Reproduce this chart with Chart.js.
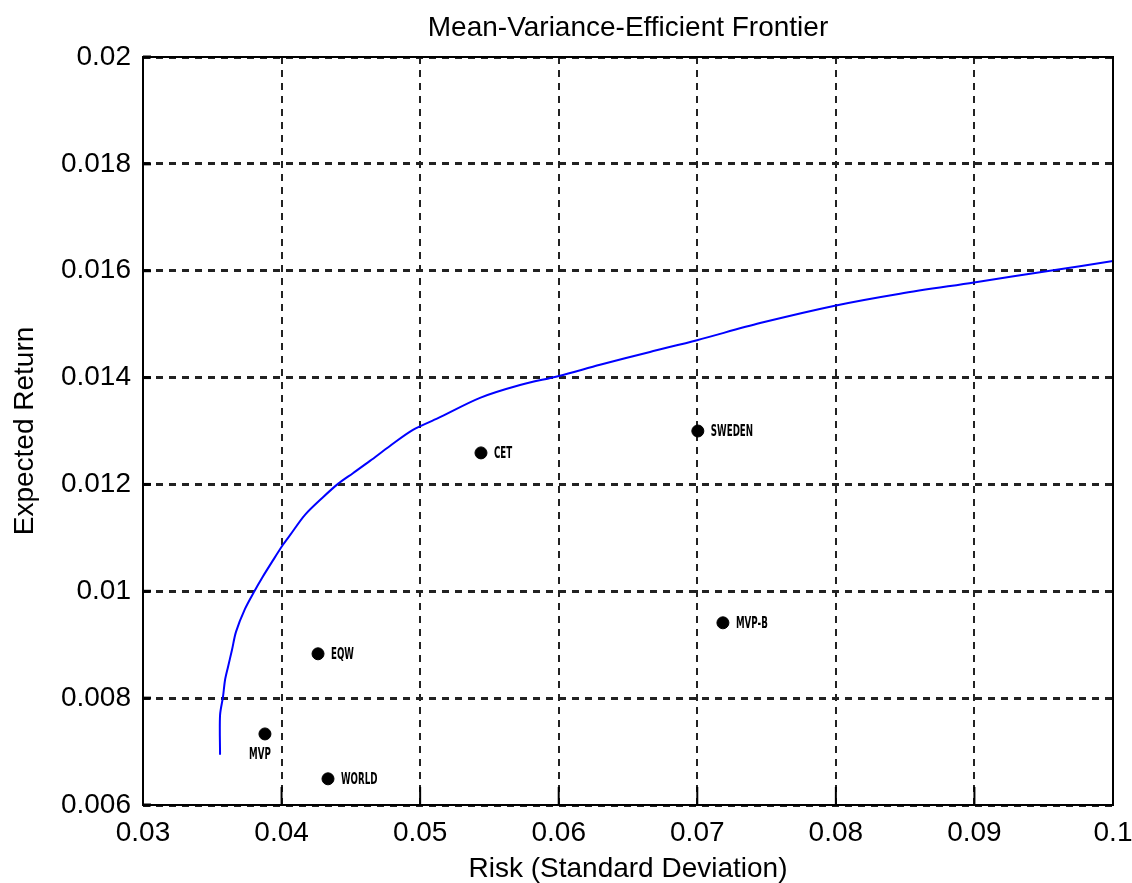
<!DOCTYPE html>
<html>
<head>
<meta charset="utf-8">
<script src="https://cdn.jsdelivr.net/npm/chart.js@4.4.1/dist/chart.umd.min.js"></script>
<style>
  html, body { margin: 0; padding: 0; background: #fff; }
  #wrap { width: 1132px; height: 883px; }
</style>
</head>
<body>
<div id="wrap"><canvas id="c"></canvas></div>
<script>
// efficient frontier
const frontierRisk = [0.03556, 0.03556, 0.03577, 0.03592, 0.03613, 0.03642, 0.03671, 0.03736, 0.03808, 0.03859,
  0.03931, 0.04010, 0.04061, 0.04169, 0.04299, 0.04407, 0.04515, 0.04638, 0.04782, 0.04948,
  0.05129, 0.05432, 0.05721, 0.06002, 0.06298, 0.06659, 0.06998, 0.07453, 0.08001, 0.08463,
  0.08997, 0.09545, 0.1];
const frontierReturn = [0.00694, 0.00768, 0.00802, 0.00834, 0.00858, 0.00890, 0.00924, 0.00967, 0.01002, 0.01025,
  0.01055, 0.01087, 0.01105, 0.01143, 0.01176, 0.01201, 0.01221, 0.01244, 0.01272, 0.01302,
  0.01324, 0.01362, 0.01386, 0.01403, 0.01424, 0.01448, 0.01470, 0.01502, 0.01535, 0.01557,
  0.01578, 0.01600, 0.01618];

// portfolios
const portNames = ["MVP", "WORLD", "EQW", "CET", "SWEDEN", "MVP-B"];
const portRisk = [0.0388, 0.04335, 0.04263, 0.05439, 0.07004, 0.07185];
const portReturn = [0.00733, 0.00649, 0.00883, 0.01259, 0.0130, 0.00941];

const xTicks = [0.03, 0.04, 0.05, 0.06, 0.07, 0.08, 0.09, 0.1];
const yTicks = [0.006, 0.008, 0.01, 0.012, 0.014, 0.016, 0.018, 0.02];

const FONT = "'Liberation Sans', Arial, sans-serif";

const fmt = v => String(Number(v.toFixed(4)));

// title, portfolio labels, solid frame + inward ticks
const decor = {
  id: 'decor',
  afterDraw(chart) {
    const { ctx, chartArea: a, scales: { x, y } } = chart;
    ctx.save();
    // frame
    ctx.strokeStyle = '#000';
    ctx.lineWidth = 2;
    ctx.setLineDash([]);
    ctx.strokeRect(a.left, a.top, a.right - a.left, a.bottom - a.top);
    // inward tick marks
    xTicks.forEach(v => {
      const px = x.getPixelForValue(v);
      ctx.beginPath();
      ctx.moveTo(px, a.bottom); ctx.lineTo(px, a.bottom - 18);
      ctx.stroke();
    });
    ctx.lineWidth = 3;
    yTicks.forEach(v => {
      const py = y.getPixelForValue(v);
      ctx.beginPath();
      ctx.moveTo(a.left, py); ctx.lineTo(a.left + 8, py);
      ctx.stroke();
    });
    // title
    ctx.fillStyle = '#000';
    ctx.font = "28px " + FONT;
    ctx.textAlign = 'center';
    ctx.textBaseline = 'middle';
    ctx.fillText('Mean-Variance-Efficient Frontier', (a.left + a.right) / 2, 28);
    // portfolio labels (narrow, tall)
    ctx.font = "bold 15px 'DejaVu Sans', sans-serif";
    portNames.forEach((n, i) => {
      const px = x.getPixelForValue(portRisk[i]);
      const py = y.getPixelForValue(portReturn[i]);
      ctx.save();
      if (n === 'MVP') {
        ctx.translate(px - 5, py + 21);
        ctx.textAlign = 'center';
      } else {
        ctx.translate(px + 13, py + 1);
        ctx.textAlign = 'left';
      }
      ctx.scale(0.58, 1);
      ctx.fillText(n, 0, 0);
      ctx.restore();
    });
    ctx.restore();
  }
};

new Chart(document.getElementById('c'), {
  type: 'scatter',
  data: {
    datasets: [
      {
        type: 'line',
        data: frontierRisk.map((r, i) => ({ x: r, y: frontierReturn[i] })),
        borderColor: '#0000ff',
        borderWidth: 2,
        pointRadius: 0,
        tension: 0.3,
        fill: false,
        order: 2
      },
      {
        data: portRisk.map((r, i) => ({ x: r, y: portReturn[i] })),
        backgroundColor: '#000',
        borderColor: '#000',
        pointRadius: 6,
        pointHoverRadius: 6,
        order: 1
      }
    ]
  },
  options: {
    responsive: true,
    maintainAspectRatio: false,
    animation: false,
    layout: { padding: { top: 57, right: 19, left: 0, bottom: 0 } },
    plugins: {
      legend: { display: false },
      tooltip: { enabled: false }
    },
    scales: {
      x: {
        type: 'linear',
        min: 0.03, max: 0.1,
        afterBuildTicks: s => { s.ticks = xTicks.map(v => ({ value: v })); },
        afterFit: s => { s.height = 78; s.paddingRight = 0; s.paddingLeft = 0; },
        grid: { color: '#222', lineWidth: 2, drawTicks: false },
        border: { display: false, dash: [7, 6] },
        ticks: {
          padding: 11,
          color: '#000',
          font: { family: FONT, size: 28 },
          maxRotation: 0,
          callback: v => fmt(v)
        },
        title: {
          display: true,
          text: 'Risk (Standard Deviation)',
          color: '#000',
          font: { family: FONT, size: 28 },
          padding: { top: 0, bottom: -3 }
        }
      },
      y: {
        type: 'linear',
        min: 0.006, max: 0.02,
        afterBuildTicks: s => { s.ticks = yTicks.map(v => ({ value: v })); },
        afterFit: s => { s.width = 143; s.paddingTop = 0; s.paddingBottom = 0; },
        grid: { color: '#222', lineWidth: 3, drawTicks: false },
        border: { display: false, dash: [7, 6] },
        ticks: {
          padding: 12,
          color: '#000',
          font: { family: FONT, size: 28 },
          callback: v => fmt(v)
        },
        title: {
          display: true,
          text: 'Expected Return',
          color: '#000',
          font: { family: FONT, size: 28 },
          padding: { top: 8, bottom: 0 }
        }
      }
    }
  },
  plugins: [decor]
});
</script>
</body>
</html>
